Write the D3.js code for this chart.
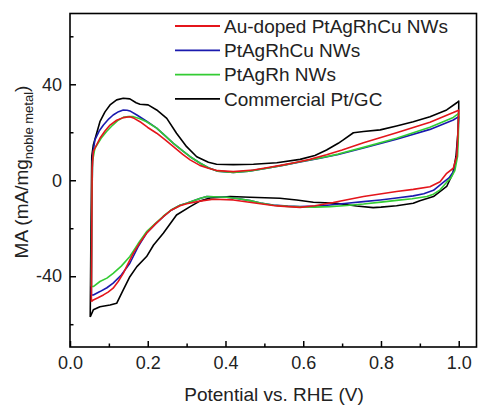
<!DOCTYPE html>
<html>
<head>
<meta charset="utf-8">
<script src="https://cdn.jsdelivr.net/npm/d3@7"></script>
<style>
  body { margin: 0; background: #fff; }
  svg text { font-family: "Liberation Sans", Arial, sans-serif; fill: #222; }
</style>
</head>
<body>
<div id="canvas"></div>
<script>
// series, each a closed CV loop of [potential (V), MA (mA/mg)] pairs
var seriesNames = ['Au-doped PtAgRhCu NWs', 'PtAgRhCu NWs', 'PtAgRh NWs', 'Commercial Pt/GC'];

var auPtAgRhCu = [
  [0.055,-50.6],[0.056,-20],[0.057,5],[0.060,12],[0.077,17.5],[0.090,20.5],[0.103,23],[0.120,25],
  [0.137,26.1],[0.154,26.5],[0.165,25.8],[0.180,24.4],[0.200,22],[0.223,19.6],[0.245,16.8],[0.266,14],
  [0.290,10.8],[0.309,8.5],[0.334,6.2],[0.356,5],[0.380,4],[0.420,3.6],[0.472,4.3],[0.510,5.3],
  [0.549,6.4],[0.583,7.5],[0.617,8.7],[0.660,10.6],[0.700,12.6],[0.755,15.6],[0.840,19.8],[0.926,24.2],
  [0.986,28.2],[1.0,29.2],[0.998,20],[0.995,10],[0.986,5],[0.969,2.9],[0.952,-0.6],[0.926,-2.7],
  [0.883,-3.8],[0.840,-4.7],[0.755,-6.8],[0.677,-9.3],[0.630,-10.6],[0.592,-11.3],[0.532,-10.7],
  [0.480,-9.6],[0.420,-8.2],[0.369,-7.9],[0.334,-8.7],[0.300,-9.8],[0.283,-10.6],[0.260,-12.5],
  [0.240,-15.2],[0.220,-18.2],[0.197,-22.1],[0.180,-26],[0.163,-30.4],[0.150,-34.5],[0.137,-38.8],
  [0.124,-42.2],[0.111,-45],[0.098,-46.6],[0.086,-47.8],[0.072,-49],[0.060,-49.9],[0.055,-50.6]
];

var ptAgRhCu = [
  [0.055,-47.8],[0.056,-15],[0.058,10],[0.064,16.8],[0.075,20.5],[0.086,23],[0.100,25.6],[0.111,27.2],
  [0.125,28.6],[0.137,29.3],[0.147,29.2],[0.154,28.9],[0.172,27.2],[0.197,24.6],[0.223,21.7],
  [0.245,18.5],[0.266,15.4],[0.290,12.2],[0.309,9.8],[0.334,7.2],[0.356,5.2],[0.380,3.8],[0.420,3.3],
  [0.460,3.8],[0.506,5],[0.550,6.3],[0.592,7.6],[0.640,9.1],[0.690,10.7],[0.755,13.4],[0.840,17.1],
  [0.926,21.2],[0.986,25.1],[1.0,26.5],[0.998,18],[0.995,10],[0.988,4],[0.975,1],[0.961,-0.8],
  [0.935,-4.2],[0.910,-5.6],[0.883,-6.5],[0.840,-7.4],[0.798,-8.2],[0.755,-8.9],[0.712,-9.6],
  [0.669,-10.3],[0.630,-10.8],[0.592,-11],[0.560,-10.8],[0.523,-10.3],[0.490,-9.5],[0.463,-8.5],
  [0.430,-7.6],[0.403,-7.1],[0.352,-6.8],[0.334,-7.6],[0.300,-9.6],[0.283,-10.4],[0.260,-12.5],
  [0.240,-15.2],[0.220,-18.2],[0.197,-22],[0.175,-27.8],[0.154,-34.6],[0.132,-39.5],[0.111,-42.9],
  [0.095,-44.8],[0.077,-46.4],[0.060,-47.8],[0.055,-47.8]
];

var ptAgRh = [
  [0.055,-44.3],[0.056,-10],[0.058,8],[0.064,13.3],[0.080,17.5],[0.094,20.3],[0.110,23],[0.124,25],
  [0.137,26.2],[0.150,26.6],[0.163,26.5],[0.180,25.6],[0.197,24.4],[0.223,21.7],[0.245,18.5],
  [0.266,15.4],[0.290,12.2],[0.309,9.8],[0.334,7.2],[0.356,5.2],[0.380,3.8],[0.420,3.3],[0.460,3.8],
  [0.506,5],[0.550,6.3],[0.592,7.7],[0.640,9.2],[0.690,10.9],[0.755,13.7],[0.840,17.5],[0.926,22.1],
  [0.986,26.2],[1.0,27.9],[0.999,18],[0.997,10],[0.990,4],[0.980,1],[0.969,-0.8],[0.952,-4],
  [0.935,-5.8],[0.918,-6.8],[0.880,-7.7],[0.840,-8.4],[0.800,-9.1],[0.755,-9.9],[0.712,-10.5],
  [0.669,-11],[0.630,-11.2],[0.592,-11.1],[0.560,-10.9],[0.523,-10.4],[0.490,-9.5],[0.463,-8.5],
  [0.430,-7.6],[0.403,-7.1],[0.352,-6.8],[0.334,-7.6],[0.300,-9.6],[0.283,-10.4],[0.260,-12.4],
  [0.240,-15],[0.220,-18],[0.197,-21.4],[0.175,-26.5],[0.154,-31.8],[0.132,-35.8],[0.111,-38.8],
  [0.095,-40.8],[0.077,-42.2],[0.060,-44.3],[0.055,-44.3]
];

var commercialPt = [
  [0.052,-57],[0.054,-20],[0.056,10],[0.060,14.7],[0.077,24.4],[0.090,28.5],[0.103,31.4],[0.120,33.5],
  [0.137,34.2],[0.154,33.9],[0.170,32.3],[0.180,31.7],[0.201,31.4],[0.223,29.3],[0.249,25.8],
  [0.274,19.6],[0.300,14],[0.326,9.8],[0.356,7.5],[0.377,6.7],[0.420,6.5],[0.472,6.7],[0.532,7.3],
  [0.592,8.7],[0.630,10.3],[0.660,12.6],[0.690,15.4],[0.703,16.8],[0.729,19.8],[0.755,20.3],
  [0.798,21],[0.840,22.6],[0.883,24.4],[0.926,26.5],[0.969,29.3],[0.995,32.3],[1.0,33],[1.0,30],
  [0.998,20],[0.993,10],[0.985,3],[0.969,-2.6],[0.935,-6.8],[0.900,-8.5],[0.883,-9.6],[0.840,-10.6],
  [0.800,-11.2],[0.780,-11.4],[0.737,-10.7],[0.685,-9.6],[0.626,-9.2],[0.583,-8.2],[0.540,-7.5],
  [0.463,-7.1],[0.412,-6.8],[0.360,-7.4],[0.334,-8.7],[0.309,-11],[0.274,-14.5],[0.240,-22.1],
  [0.215,-27],[0.197,-31.8],[0.172,-36],[0.154,-40.2],[0.137,-45.7],[0.120,-51.3],[0.103,-52],
  [0.077,-52.7],[0.060,-54],[0.052,-57]
];

var xMajorTicks = [0, 0.2, 0.4, 0.6, 0.8, 1.0];
var xMinorTicks = [0.1, 0.3, 0.5, 0.7, 0.9];
var yMajorTicks = [-40, 0, 40];
var yMinorTicks = [-60, -20, 20, 60];

var colors = ['#e4151b', '#1a1aae', '#33cc33', '#000000'];

var svg = d3.select('#canvas').append('svg')
  .attr('width', 478)
  .attr('height', 408);

var x = d3.scaleLinear().domain([0, 1.047]).range([70, 477]);
var y = d3.scaleLinear().domain([-69.5, 69.5]).range([347, 13.5]);

// axes, ticks pointing inward
svg.append('g').attr('transform', 'translate(0,347)')
  .call(d3.axisBottom(x).tickValues(xMajorTicks).tickSize(-6).tickPadding(9.5)
    .tickFormat(function (d) { return d.toFixed(1); }));
svg.append('g').attr('transform', 'translate(0,347)')
  .call(d3.axisBottom(x).tickValues(xMinorTicks).tickSize(-3.5).tickFormat(''));
svg.append('g').attr('transform', 'translate(70,0)')
  .call(d3.axisLeft(y).tickValues(yMajorTicks).tickSize(-6).tickPadding(8)
    .tickFormat(function (d) { return String(d); }));
svg.append('g').attr('transform', 'translate(70,0)')
  .call(d3.axisLeft(y).tickValues(yMinorTicks).tickSize(-3.5).tickFormat(''));

svg.selectAll('.domain').remove();
svg.selectAll('.tick line').attr('stroke', '#000').attr('stroke-width', 1.5);
svg.selectAll('.tick text').attr('font-size', 18).style('font-family', '"Liberation Sans", Arial, sans-serif').attr('fill', '#222');

// frame
svg.append('rect')
  .attr('x', 70).attr('y', 13.5)
  .attr('width', 406.5).attr('height', 333.5)
  .attr('fill', 'none').attr('stroke', '#000').attr('stroke-width', 1.6);

// curves, black first so the red sits on top
var line = d3.line()
  .x(function (d) { return x(d[0]); })
  .y(function (d) { return y(d[1]); });

var curves = [auPtAgRhCu, ptAgRhCu, ptAgRh, commercialPt];
var drawOrder = [3, 1, 2, 0];
drawOrder.forEach(function (i) {
  svg.append('path')
    .datum(curves[i])
    .attr('d', line)
    .attr('fill', 'none')
    .attr('stroke', colors[i])
    .attr('stroke-width', 1.6)
    .attr('stroke-linejoin', 'round');
});

// legend
var legend = svg.append('g').selectAll('g').data(seriesNames)
  .enter().append('g')
  .attr('transform', function (d, i) { return 'translate(0,' + (26 + i * 24.3) + ')'; });
legend.append('line')
  .attr('x1', 175).attr('x2', 220)
  .attr('y1', 0).attr('y2', 0)
  .attr('stroke', function (d, i) { return colors[i]; })
  .attr('stroke-width', 1.8);
legend.append('text')
  .attr('x', 224).attr('y', 6.8)
  .attr('font-size', 19)
  .text(function (d) { return d; });

// axis titles
svg.append('text')
  .attr('x', 274).attr('y', 401)
  .attr('text-anchor', 'middle')
  .attr('font-size', 19)
  .text('Potential vs. RHE (V)');

var yTitle = svg.append('text')
  .attr('transform', 'translate(28,172) rotate(-90)')
  .attr('text-anchor', 'middle')
  .attr('font-size', 19);
yTitle.append('tspan').text('MA (mA/mg');
yTitle.append('tspan').attr('font-size', 13).attr('dy', 5).text('noble metal');
yTitle.append('tspan').attr('dy', -5).text(')');
</script>
</body>
</html>
